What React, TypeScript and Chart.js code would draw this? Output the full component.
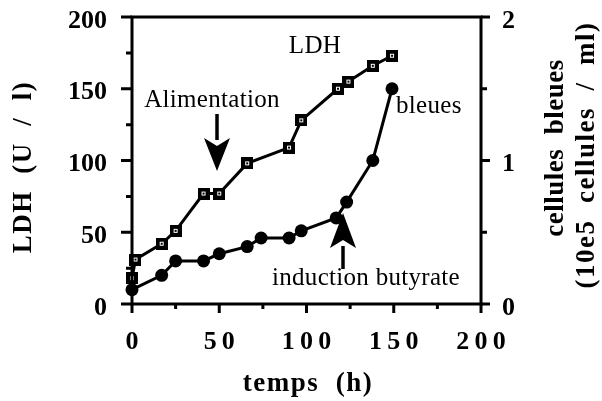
import React, { useEffect, useRef } from "react";
import { Chart, registerables } from "chart.js";

Chart.register(...registerables);

// ---- data ----
const ldhTimes = [0, 2, 17, 25, 41, 50, 66, 90, 97, 118, 124, 138, 149];
const ldhValues = [18, 31, 42, 51, 77, 77, 98, 109, 128, 150, 155, 166, 173];
const bleuesTimes = [0, 17, 25, 41, 50, 66, 74, 90, 97, 117, 123, 138, 149];
const bleuesValues = [0.1, 0.2, 0.3, 0.3, 0.35, 0.4, 0.46, 0.46, 0.51, 0.6, 0.71, 1.0, 1.5];
const xMajorTicks = [0, 50, 100, 150, 200];
const leftMajorTicks = [0, 50, 100, 150, 200];
const rightMajorTicks = [0, 1, 2];

const xTitle = "temps  (h)";
const leftTitle = "LDH  (U  /  l)";
const rightTitle1 = "cellules  bleues";
const rightTitle2 = "(10e5  cellules  /  ml)";

const SERIF = '"Liberation Serif", "Times New Roman", serif';

function makeSquare(): HTMLCanvasElement {
  const c = document.createElement("canvas");
  c.width = 12;
  c.height = 12;
  const g = c.getContext("2d")!;
  g.fillStyle = "#000";
  g.fillRect(0, 0, 12, 12);
  g.strokeStyle = "#fff";
  g.lineWidth = 1;
  g.strokeRect(4.5, 4.5, 3, 3);
  return c;
}

const zeroPad = (s: any) => {
  s.paddingTop = 0;
  s.paddingBottom = 0;
  s.paddingLeft = 0;
  s.paddingRight = 0;
};

const decorPlugin = {
  id: "decor",
  afterDraw(chart: any) {
    const ctx: CanvasRenderingContext2D = chart.ctx;
    const { left, right, top, bottom } = chart.chartArea;
    const xs = chart.scales.x;
    const yl = chart.scales.y;
    const yr = chart.scales.y1;
    ctx.save();
    ctx.strokeStyle = "#000";
    ctx.fillStyle = "#000";
    // frame
    ctx.lineWidth = 3;
    ctx.strokeRect(left, top, right - left, bottom - top);
    // ticks
    ctx.lineWidth = 3;
    ctx.beginPath();
    for (const t of xs.ticks) {
      const px = xs.getPixelForValue(t.value);
      const len = xMajorTicks.includes(t.value) ? 9 : 5;
      ctx.moveTo(px, bottom);
      ctx.lineTo(px, bottom + len);
    }
    for (const t of yl.ticks) {
      const py = yl.getPixelForValue(t.value);
      const len = leftMajorTicks.includes(t.value) ? 11 : 6;
      ctx.moveTo(left, py);
      ctx.lineTo(left - len, py);
    }
    for (const t of yr.ticks) {
      const py = yr.getPixelForValue(t.value);
      const len = rightMajorTicks.includes(t.value) ? 9 : 6;
      ctx.moveTo(right, py);
      ctx.lineTo(right + len, py);
    }
    ctx.stroke();

    // titles
    ctx.textAlign = "center";
    ctx.textBaseline = "middle";
    ctx.font = `bold 27px ${SERIF}`;
    (ctx as any).letterSpacing = "1.5px";
    ctx.fillText(xTitle, 308, 384);
    ctx.save();
    ctx.translate(24, 167);
    ctx.rotate(-Math.PI / 2);
    ctx.fillText(leftTitle, 0, 0);
    ctx.restore();
    (ctx as any).letterSpacing = "0.5px";
    ctx.save();
    ctx.translate(556, 148);
    ctx.rotate(-Math.PI / 2);
    ctx.fillText(rightTitle1, 0, 0);
    ctx.restore();
    (ctx as any).letterSpacing = "1.5px";
    ctx.save();
    ctx.translate(587, 155);
    ctx.rotate(-Math.PI / 2);
    ctx.fillText(rightTitle2, 0, 0);
    ctx.restore();

    // annotations
    ctx.font = `25px ${SERIF}`;
    (ctx as any).letterSpacing = "0.3px";
    ctx.textBaseline = "alphabetic";
    ctx.textAlign = "center";
    ctx.fillText("LDH", 315, 53);
    ctx.fillText("Alimentation", 212, 107);
    ctx.fillText("induction butyrate", 366, 285);
    ctx.textAlign = "left";
    ctx.fillText("bleues", 396, 113);
    (ctx as any).letterSpacing = "0px";

    // arrows
    const arrow = (x: number, tipY: number, baseY: number, tailY: number) => {
      const dir = Math.sign(baseY - tipY);
      ctx.lineWidth = 3.5;
      ctx.beginPath();
      ctx.moveTo(x, baseY);
      ctx.lineTo(x, tailY);
      ctx.stroke();
      ctx.beginPath();
      ctx.moveTo(x, tipY);
      ctx.lineTo(x - 13, baseY + dir * 2);
      ctx.lineTo(x, baseY - dir * 6);
      ctx.lineTo(x + 13, baseY + dir * 2);
      ctx.closePath();
      ctx.fill();
    };
    arrow(217, 171, 140, 114);
    arrow(343, 213, 246, 269);
    ctx.restore();
  },
};

export default function App() {
  const ref = useRef<HTMLCanvasElement | null>(null);
  useEffect(() => {
    if (!ref.current) return;
    const square = makeSquare();
    const tickFont = { family: SERIF, size: 26, weight: "bold" as const };
    const chart = new Chart(ref.current, {
      type: "line",
      data: {
        datasets: [
          {
            label: "LDH",
            data: ldhTimes.map((t, i) => ({ x: t, y: ldhValues[i] })),
            yAxisID: "y",
            borderColor: "#000",
            borderWidth: 3,
            pointStyle: square as any,
            pointRadius: 6,
            backgroundColor: "#000",
            tension: 0,
            clip: false as any,
          },
          {
            label: "bleues",
            data: bleuesTimes.map((t, i) => ({ x: t, y: bleuesValues[i] })),
            yAxisID: "y1",
            borderColor: "#000",
            borderWidth: 3,
            pointStyle: "circle",
            pointRadius: 6.5,
            pointBackgroundColor: "#000",
            pointBorderWidth: 0,
            backgroundColor: "#000",
            tension: 0,
            clip: false as any,
          },
        ],
      },
      options: {
        animation: false,
        responsive: true,
        maintainAspectRatio: false,
        layout: { padding: { top: 17, left: 0, right: 0, bottom: 0 } },
        plugins: { legend: { display: false }, tooltip: { enabled: false } },
        scales: {
          x: {
            type: "linear",
            min: 0,
            max: 200,
            grid: { display: false },
            border: { display: false },
            afterFit: (s: any) => {
              s.height = 97;
              zeroPad(s);
            },
            ticks: {
              stepSize: 25,
              padding: 15,
              color: "#000",
              font: tickFont,
              maxRotation: 0,
              autoSkip: false,
              callback: (v: any) =>
                xMajorTicks.includes(Number(v)) ? String(v).split("").join("\u2009") : "",
            },
          },
          y: {
            type: "linear",
            position: "left",
            min: 0,
            max: 200,
            grid: { display: false },
            border: { display: false },
            afterFit: (s: any) => {
              s.width = 132;
              zeroPad(s);
            },
            ticks: {
              stepSize: 25,
              padding: 17,
              labelOffset: 4,
              color: "#000",
              font: tickFont,
              autoSkip: false,
              callback: (v: any) => (leftMajorTicks.includes(Number(v)) ? String(v) : ""),
            },
          },
          y1: {
            type: "linear",
            position: "right",
            min: 0,
            max: 2,
            grid: { display: false },
            border: { display: false },
            afterFit: (s: any) => {
              s.width = 121;
              zeroPad(s);
            },
            ticks: {
              stepSize: 0.5,
              padding: 13,
              labelOffset: 4,
              color: "#000",
              font: tickFont,
              autoSkip: false,
              callback: (v: any) => (rightMajorTicks.includes(Number(v)) ? String(v) : ""),
            },
          },
        },
      },
      plugins: [decorPlugin],
    });
    return () => chart.destroy();
  }, []);
  return (
    <div style={{ position: "absolute", left: 0, top: 0, width: 602, height: 401, background: "#fff" }}>
      <canvas ref={ref} />
    </div>
  );
}
